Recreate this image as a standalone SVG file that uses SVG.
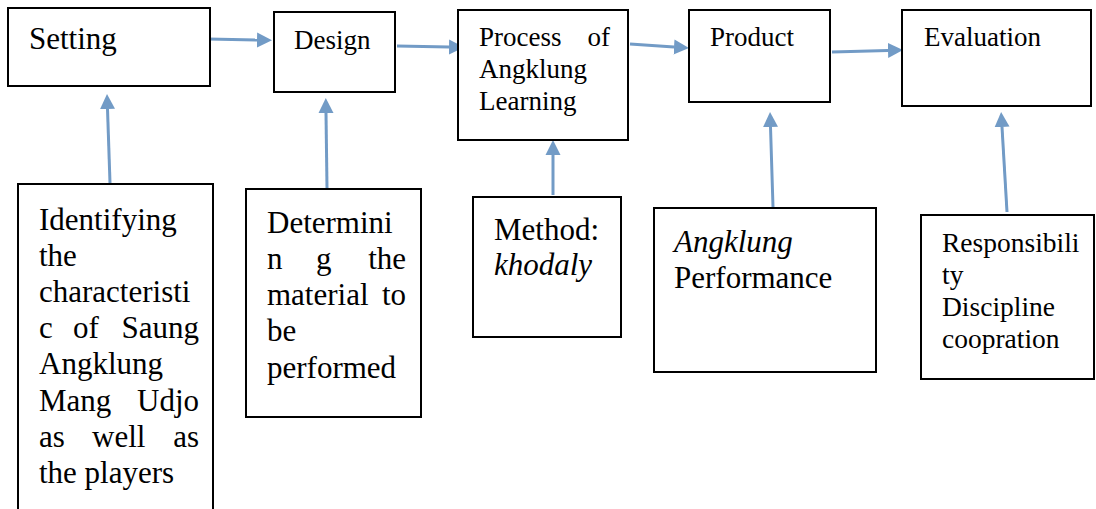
<svg xmlns="http://www.w3.org/2000/svg" width="1096" height="509" viewBox="0 0 1096 509">
<style>
.box{fill:#fff;stroke:#000;stroke-width:2}
.t{font-family:"Liberation Serif","Times New Roman",serif;fill:#000}
.conn{stroke:#729bc6;stroke-width:3;fill:none;marker-end:url(#ah)}
</style>
<defs>
<marker id="ah" markerUnits="userSpaceOnUse" markerWidth="16" markerHeight="16" refX="0" refY="7.5" orient="auto" viewBox="0 0 16 15">
<path d="M0,0 L15,7.5 L0,15 z" fill="#729bc6"/>
</marker>
</defs>
<rect width="1096" height="509" fill="#fff"/>
<g id="connectors">
<path class="conn" d="M208,39 L257,40"/>
<path class="conn" d="M397,46 L449,47"/>
<path class="conn" d="M630,44 L674,47"/>
<path class="conn" d="M832,52 L888,50.4"/>
<path class="conn" d="M110,183 L107.5,109"/>
<path class="conn" d="M327,188 L326,113"/>
<path class="conn" d="M553,195 L553,155"/>
<path class="conn" d="M773,207 L770.5,127"/>
<path class="conn" d="M1007,212 L1002,127"/>
</g>
<g id="setting">
<rect class="box" x="8" y="8" width="202" height="78"/>
<text class="t" x="29" y="49" font-size="31">Setting</text>
</g>
<g id="design">
<rect class="box" x="274" y="12" width="121" height="80"/>
<text class="t" x="294" y="49" font-size="27">Design</text>
</g>
<g id="process">
<rect class="box" x="458" y="10" width="170" height="130"/>
<text class="t" font-size="27"><tspan x="479" y="46">Process</tspan><tspan x="610" y="46" text-anchor="end">of</tspan><tspan x="479" y="78">Angklung</tspan><tspan x="479" y="110">Learning</tspan></text>
</g>
<g id="product">
<rect class="box" x="689" y="10" width="141" height="92"/>
<text class="t" x="710" y="46" font-size="27">Product</text>
</g>
<g id="evaluation">
<rect class="box" x="902" y="10" width="189" height="96"/>
<text class="t" x="924" y="46" font-size="27">Evaluation</text>
</g>
<g id="identifying">
<rect class="box" x="18" y="184" width="195" height="340"/>
<text class="t" font-size="31"><tspan x="39" y="229.5">Identifying</tspan><tspan x="39" y="266">the</tspan><tspan x="39" y="302">characteristi</tspan><tspan x="39" y="338">c</tspan><tspan x="73" y="338">of</tspan><tspan x="199" y="338" text-anchor="end">Saung</tspan><tspan x="39" y="374">Angklung</tspan><tspan x="39" y="411">Mang</tspan><tspan x="199" y="411" text-anchor="end">Udjo</tspan><tspan x="39" y="447">as</tspan><tspan x="92" y="447">well</tspan><tspan x="199" y="447" text-anchor="end">as</tspan><tspan x="39" y="483">the players</tspan></text>
</g>
<g id="determining">
<rect class="box" x="246" y="189" width="175" height="228"/>
<text class="t" font-size="31"><tspan x="267" y="233">Determini</tspan><tspan x="267" y="269">n</tspan><tspan x="316" y="269">g</tspan><tspan x="406" y="269" text-anchor="end">the</tspan><tspan x="267" y="305">material</tspan><tspan x="406" y="305" text-anchor="end">to</tspan><tspan x="267" y="341">be</tspan><tspan x="267" y="378">performed</tspan></text>
</g>
<g id="method">
<rect class="box" x="473" y="197" width="148" height="140"/>
<text class="t" font-size="31"><tspan x="494" y="240">Method:</tspan><tspan x="494" y="275" font-style="italic">khodaly</tspan></text>
</g>
<g id="performance">
<rect class="box" x="654" y="208" width="222" height="164"/>
<text class="t" font-size="31"><tspan x="674" y="252" font-style="italic">Angklung</tspan><tspan x="674" y="288">Performance</tspan></text>
</g>
<g id="values">
<rect class="box" x="921" y="215" width="173" height="164"/>
<text class="t" font-size="27.5"><tspan x="942" y="252">Responsibili</tspan><tspan x="942" y="284">ty</tspan><tspan x="942" y="316">Discipline</tspan><tspan x="942" y="348">coopration</tspan></text>
</g>
</svg>
